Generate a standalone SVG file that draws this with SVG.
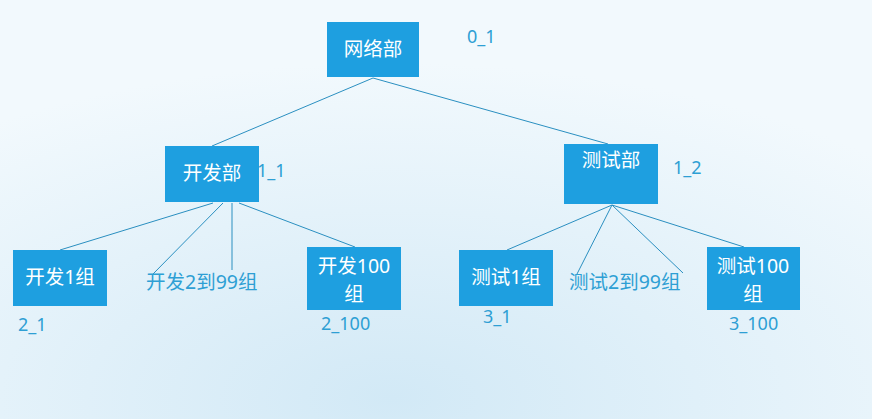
<svg xmlns="http://www.w3.org/2000/svg" width="872" height="419" viewBox="0 0 872 419">
<defs>
<radialGradient id="bg" cx="0.45" cy="0.95" r="0.8">
<stop offset="0" stop-color="#d2e9f6"/>
<stop offset="1" stop-color="#f2f9fd"/>
</radialGradient>
<style>
.box{fill:#1e9fe0}
.bt{fill:#ffffff;font-family:"Noto Sans","Noto Sans CJK SC",sans-serif;font-size:19.5px;text-anchor:middle}
.lb{fill:#2e9fd4;font-family:"Noto Sans","Noto Sans CJK SC",sans-serif;font-size:18px}
.mid{font-size:19.5px}
.cn line{stroke:#2a8fc0;stroke-width:1}
</style>
</defs>
<rect width="872" height="419" fill="url(#bg)"/>
<g class="cn" id="connectors">
<line x1="373" y1="78" x2="212" y2="146"/>
<line x1="373" y1="78" x2="608" y2="144"/>
<line x1="213" y1="203" x2="60" y2="250"/>
<line x1="223" y1="203" x2="153" y2="274"/>
<line x1="232" y1="203" x2="232" y2="270"/>
<line x1="239" y1="203" x2="355" y2="247"/>
<line x1="612" y1="205" x2="507" y2="250"/>
<line x1="612" y1="205" x2="577" y2="274"/>
<line x1="612" y1="205" x2="683" y2="273"/>
<line x1="612" y1="205" x2="744" y2="247"/>
</g>
<g id="n0"><rect class="box" x="327" y="22" width="92" height="55"/><text class="bt" x="373" y="56">网络部</text></g>
<g id="n11"><rect class="box" x="165" y="146" width="94" height="56"/><text class="bt" x="212" y="180">开发部</text></g>
<g id="n12"><rect class="box" x="564" y="144" width="94" height="60"/><text class="bt" x="611" y="167">测试部</text></g>
<g id="n21"><rect class="box" x="13" y="250" width="94" height="56"/><text class="bt" x="60" y="284">开发1组</text></g>
<g id="n2m"><text class="lb mid" x="146" y="289">开发2到99组</text></g>
<g id="n2100"><rect class="box" x="307" y="247" width="94" height="63"/><text class="bt" x="354" y="273">开发100</text><text class="bt" x="354" y="301">组</text></g>
<g id="n31"><rect class="box" x="459" y="250" width="94" height="56"/><text class="bt" x="506" y="284">测试1组</text></g>
<g id="n3m"><text class="lb mid" x="569" y="289">测试2到99组</text></g>
<g id="n3100"><rect class="box" x="707" y="247" width="93" height="63"/><text class="bt" x="753" y="273">测试100</text><text class="bt" x="753" y="301">组</text></g>
<g id="labels">
<text class="lb" x="467" y="43">0_1</text>
<text class="lb" x="257" y="177">1_1</text>
<text class="lb" x="673" y="174">1_2</text>
<text class="lb" x="18" y="331">2_1</text>
<text class="lb" x="321" y="330">2_100</text>
<text class="lb" x="483" y="323">3_1</text>
<text class="lb" x="729" y="330">3_100</text>
</g>
</svg>
